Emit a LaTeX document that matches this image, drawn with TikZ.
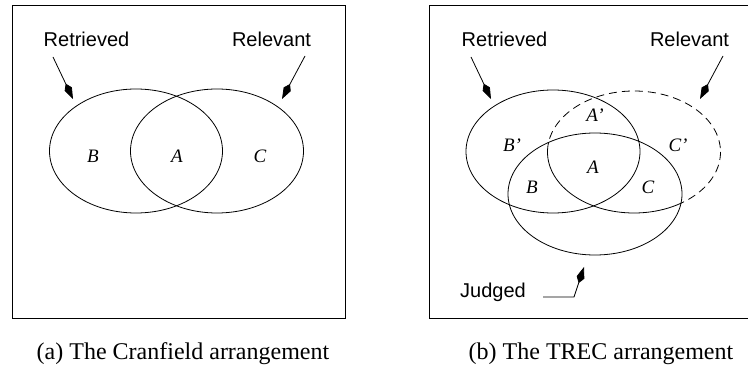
\documentclass[tikz,border=0pt]{standalone}
\usepackage{fontspec}
\setmainfont{Liberation Serif}
\newfontfamily\labfont{Liberation Sans}
\usetikzlibrary{arrows.meta}
\begin{document}
\begin{tikzpicture}[x=1pt,y=-1pt,
  frame/.style={line width=0.9pt},
  setline/.style={line width=0.8pt},
  dashline/.style={line width=0.8pt, dash pattern=on 8pt off 5pt},
  lab/.style={font=\labfont\fontsize{20}{24}\selectfont, inner sep=0pt, anchor=base},
  setlab/.style={font=\itshape\fontsize{19}{22}\selectfont, inner sep=0pt},
  captext/.style={font=\fontsize{24}{28}\selectfont, inner sep=0pt, anchor=base},
  pointer/.style={line width=0.8pt, -{Kite[length=17pt,width=8pt,inset=6pt]}}
]
\useasboundingbox (0,0) rectangle (748,366);

% ---------- (a) Cranfield ----------
\draw[frame] (12,5) rectangle (345,318);
\draw[setline] (136,151) ellipse [x radius=86.5, y radius=62];
\draw[setline] (217,151) ellipse [x radius=86.5, y radius=62];
\node[lab] (retA) at (86.5,47) {Retrieved};
\node[lab] (relA) at (271.5,47) {Relevant};
\coordinate (retAs) at (53,57);  \coordinate (retAt) at (73,99);
\coordinate (relAs) at (305,56); \coordinate (relAt) at (282,99);
\draw[pointer] (retAs) -- (retAt);
\draw[pointer] (relAs) -- (relAt);
\node[setlab] (bA) at (93,156) {B};
\node[setlab] (aA) at (177,156) {A};
\node[setlab] (cA) at (260,156) {C};
\node[captext] (capA) at (183,360) {(a) The Cranfield arrangement};

% ---------- (b) TREC ----------
\draw[frame] (748,5) -- (429,5) -- (429,318) -- (748,318);
\draw[setline] (553,151.5) ellipse [x radius=87, y radius=61.5];
\draw[setline] (595,194) ellipse [x radius=87, y radius=61];
\begin{scope}
  \clip (595,194) ellipse [x radius=87, y radius=61];
  \draw[setline] (634,152) ellipse [x radius=86.5, y radius=61];
\end{scope}
\begin{scope}[even odd rule]
  \clip (429,5) rectangle (748,318) (595,194) ellipse [x radius=87, y radius=61];
  \draw[dashline] (634,152) ellipse [x radius=86.5, y radius=61];
\end{scope}
\node[lab] (retB) at (504.5,47) {Retrieved};
\node[lab] (relB) at (689.5,47) {Relevant};
\node[lab] (judB) at (493,298) {Judged};
\coordinate (retBs) at (471,57);  \coordinate (retBt) at (491,99);
\coordinate (relBs) at (723,56);  \coordinate (relBt) at (700,99);
\coordinate (judBs) at (543,297); \coordinate (judBk) at (574,297); \coordinate (judBt) at (584,267);
\draw[pointer] (retBs) -- (retBt);
\draw[pointer] (relBs) -- (relBt);
\draw[pointer] (judBs) -- (judBk) -- (judBt);
\node[setlab] (bpB) at (512,145) {B’};
\node[setlab] (apB) at (595,115) {A’};
\node[setlab] (cpB) at (678,145) {C’};
\node[setlab] (aB) at (593,167) {A};
\node[setlab] (bB) at (532,187) {B};
\node[setlab] (cB) at (648,187) {C};
\node[captext] (capB) at (601,360) {(b) The TREC arrangement};
\end{tikzpicture}
\end{document}
